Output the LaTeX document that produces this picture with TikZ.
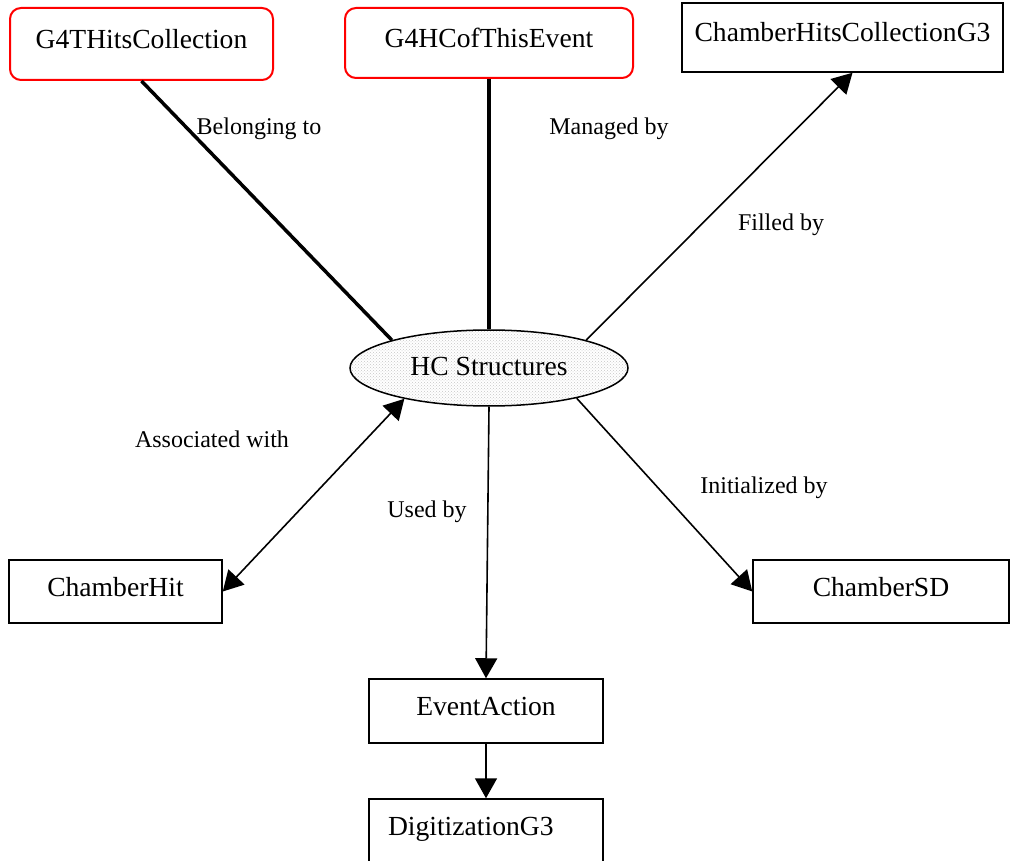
\documentclass[tikz,border=0pt]{standalone}
\usepackage{fontspec}
\setmainfont{Liberation Serif}
\usetikzlibrary{shapes.geometric,arrows.meta,patterns}
\begin{document}
\begin{tikzpicture}[x=1pt,y=-1pt,
  nodefont/.style={font=\fontsize{27.6}{33}\selectfont, text height=20pt, text depth=11pt},
  lblfont/.style={font=\fontsize{24}{29}\selectfont},
  box/.style={draw, line width=1.5pt, rectangle, nodefont, inner sep=0pt},
  redbox/.style={draw=red, line width=2pt, rectangle, rounded corners=11pt, nodefont, inner sep=0pt},
  hcnode/.style={draw, line width=1.5pt, ellipse, nodefont, text depth=5pt, inner sep=0pt,
     preaction={fill=white}, pattern=crosshatch dots, pattern color=gray!45},
  thick edge/.style={line width=3.5pt},
  arr/.style={line width=1.6pt, -{Triangle[length=20pt,width=22pt]}},
  biarr/.style={line width=1.6pt, {Triangle[length=20pt,width=22pt]}-{Triangle[length=20pt,width=22pt]}},
  lbl/.style={lblfont, inner sep=0pt}]
\useasboundingbox (0,0) rectangle (1013,861);
\clip (0,0) rectangle (1013,861);

\node[redbox, minimum width=263, minimum height=72] (g4t) at (141.5,44) {G4THitsCollection};
\node[redbox, minimum width=288, minimum height=70] (g4h) at (489,43) {G4HCofThisEvent};
\node[box, minimum width=321, minimum height=69] (chc) at (842.5,37.5) {ChamberHitsCollectionG3};
\node[hcnode, minimum width=278, minimum height=76] (hc) at (489,368) {HC Structures};
\node[box, minimum width=213, minimum height=63] (ch) at (115.5,591.5) {ChamberHit};
\node[box, minimum width=256, minimum height=63] (csd) at (881,591.5) {ChamberSD};
\node[box, minimum width=234, minimum height=64] (ea) at (486,711) {EventAction};
\node[box, minimum width=234, minimum height=64, text width=196, align=left, inner xsep=19pt] (dig) at (486,831) {DigitizationG3};

\draw[thick edge] (g4t.south) -- (hc.164);
\draw[thick edge] (g4h.south) -- (hc.north);
\draw[arr] (hc.16) -- ([xshift=10pt]chc.south);
\draw[biarr] (hc.200) -- (ch.east);
\draw[arr] (hc.-19) -- (csd.west);
\draw[arr] (hc.south) -- (ea.north);
\draw[arr] (ea.south) -- (dig.north);

\node[lbl] (l1) at (259,129) {Belonging to};
\node[lbl] (l2) at (609,129) {Managed by};
\node[lbl] (l3) at (781,225) {Filled by};
\node[lbl] (l4) at (212,439) {Associated with};
\node[lbl] (l5) at (427,512) {Used by};
\node[lbl] (l6) at (764,488) {Initialized by};
\end{tikzpicture}
\end{document}
